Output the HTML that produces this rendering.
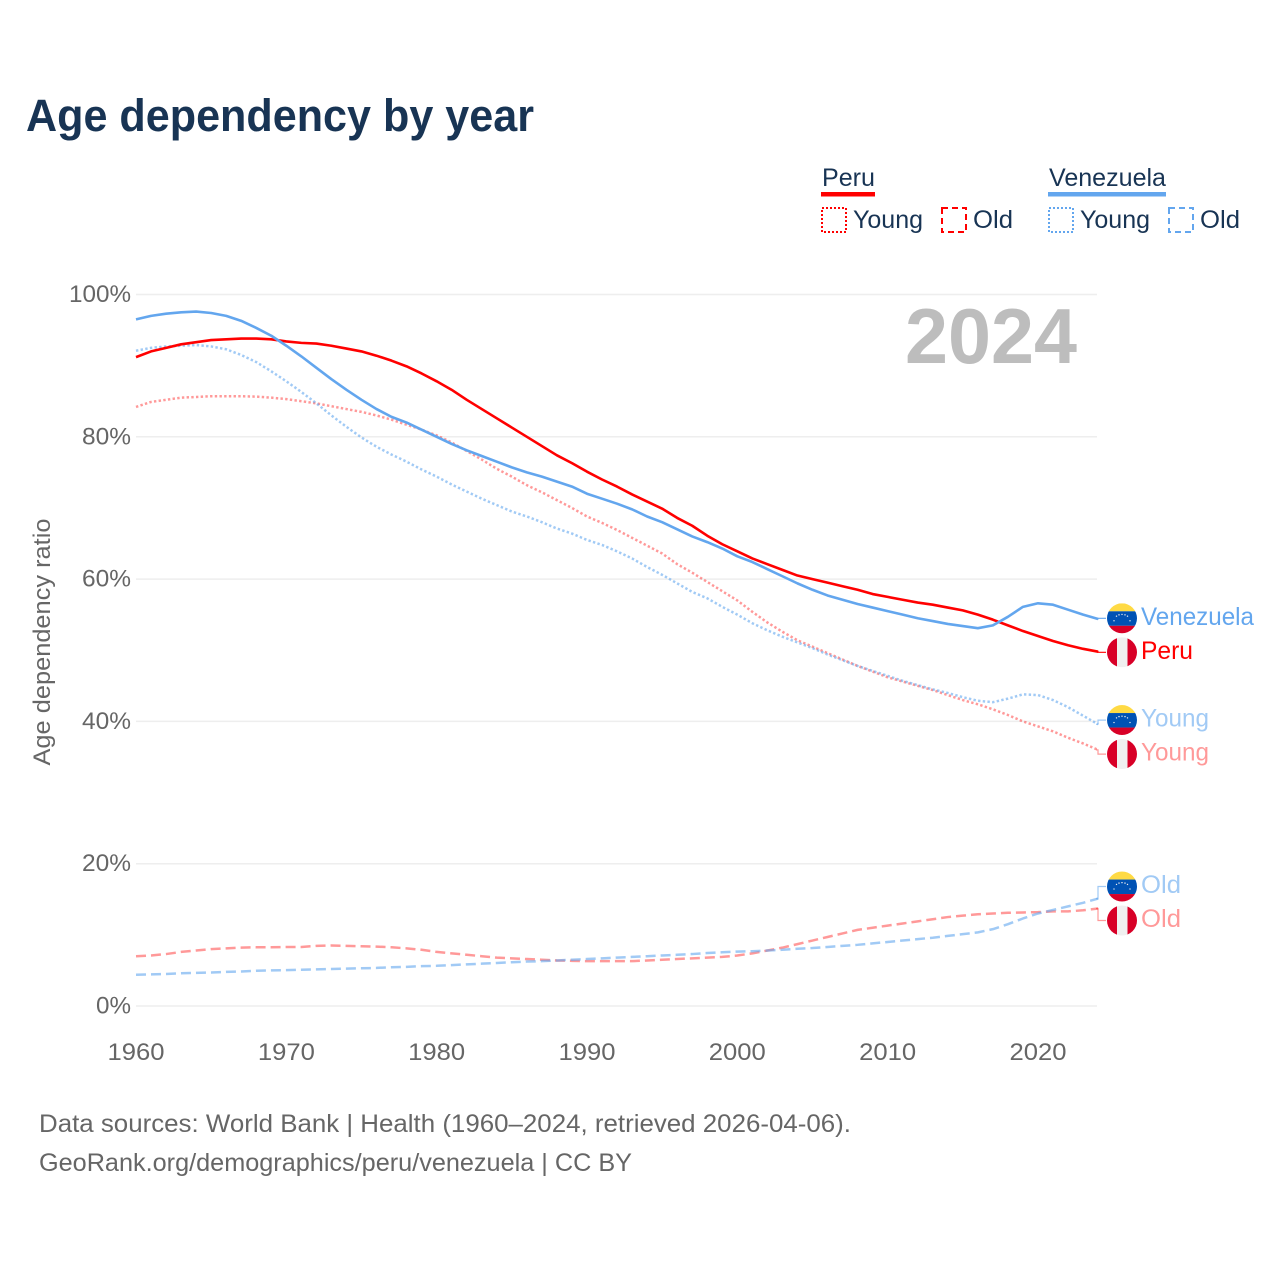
<!DOCTYPE html>
<html lang="en">
<head>
<meta charset="utf-8">
<title>Age dependency by year</title>
<style>
html,body{margin:0;padding:0;background:#fff}
svg{display:block}
text{font-family:"Liberation Sans",sans-serif}
</style>
</head>
<body>
<svg id="chart" xmlns="http://www.w3.org/2000/svg" width="1280" height="1280" viewBox="0 0 1280 1280">
  <text x="26" y="131" font-size="45" font-weight="700" fill="#183454" textLength="508" lengthAdjust="spacingAndGlyphs">Age dependency by year</text>

  <g>
    <text x="822" y="186" font-size="25" fill="#183454" textLength="53" lengthAdjust="spacingAndGlyphs">Peru</text>
    <rect x="821" y="192" width="54" height="4.5" fill="#ff0000"/>
    <rect x="822" y="208" width="24" height="24" fill="none" stroke="#ff0000" stroke-width="2" stroke-dasharray="2 2"/>
    <text x="853" y="228" font-size="25" fill="#183454" textLength="70" lengthAdjust="spacingAndGlyphs">Young</text>
    <rect x="942" y="208" width="24" height="24" fill="none" stroke="#ff0000" stroke-width="2" stroke-dasharray="6 4"/>
    <text x="973" y="228" font-size="25" fill="#183454" textLength="40" lengthAdjust="spacingAndGlyphs">Old</text>

    <text x="1049" y="186" font-size="25" fill="#183454" textLength="117" lengthAdjust="spacingAndGlyphs">Venezuela</text>
    <rect x="1048" y="192" width="118" height="4.5" fill="#63a6ee"/>
    <rect x="1049" y="208" width="24" height="24" fill="none" stroke="#63a6ee" stroke-width="2" stroke-dasharray="2 2"/>
    <text x="1080" y="228" font-size="25" fill="#183454" textLength="70" lengthAdjust="spacingAndGlyphs">Young</text>
    <rect x="1169" y="208" width="24" height="24" fill="none" stroke="#63a6ee" stroke-width="2" stroke-dasharray="6 4"/>
    <text x="1200" y="228" font-size="25" fill="#183454" textLength="40" lengthAdjust="spacingAndGlyphs">Old</text>
  </g>

  <g id="grid"></g>
  <g id="yticks"></g>
  <g id="xticks"></g>

  <text transform="translate(50 642) rotate(-90)" text-anchor="middle" font-size="24" fill="#666666" textLength="247" lengthAdjust="spacingAndGlyphs">Age dependency ratio</text>
  <text x="905" y="363" font-size="78" font-weight="700" fill="#bdbdbd" textLength="172" lengthAdjust="spacingAndGlyphs">2024</text>

  <g id="series"></g>
  <g id="endlabels"></g>

  <text x="39" y="1132" font-size="25" fill="#666666" textLength="812" lengthAdjust="spacingAndGlyphs">Data sources: World Bank | Health (1960–2024, retrieved 2026-04-06).</text>
  <text x="39" y="1171" font-size="25" fill="#666666" textLength="593" lengthAdjust="spacingAndGlyphs">GeoRank.org/demographics/peru/venezuela | CC BY</text>
</svg>

<script>
const startYear = 1960;
const xTickYears = [1960, 1970, 1980, 1990, 2000, 2010, 2020];
const yTickValues = [0, 20, 40, 60, 80, 100];

const peruTotal = [91.2,92.0,92.5,93.0,93.3,93.6,93.7,93.8,93.8,93.7,93.4,93.2,93.1,92.8,92.4,92.0,91.4,90.7,89.9,88.9,87.8,86.6,85.2,83.9,82.6,81.3,80.0,78.7,77.4,76.3,75.1,74.0,73.0,71.9,70.9,69.9,68.6,67.5,66.1,64.9,63.9,62.9,62.1,61.3,60.5,60.0,59.5,59.0,58.5,57.9,57.5,57.1,56.7,56.4,56.0,55.6,55.0,54.3,53.5,52.7,52.0,51.3,50.7,50.2,49.8];
const peruYoung = [84.2,84.9,85.2,85.5,85.6,85.7,85.7,85.7,85.65,85.5,85.3,85.0,84.7,84.3,83.9,83.5,83.0,82.4,81.7,81.0,80.2,79.2,78.0,76.8,75.5,74.4,73.2,72.2,71.1,70.0,68.8,67.9,66.9,65.8,64.7,63.6,62.1,60.9,59.6,58.3,57.0,55.4,53.9,52.6,51.4,50.5,49.6,48.7,47.8,47.0,46.2,45.6,45.0,44.4,43.7,43.0,42.4,41.7,40.9,40.0,39.3,38.6,37.7,36.9,36.0];
const peruOld = [7.0,7.1,7.3,7.6,7.8,8.0,8.1,8.2,8.25,8.25,8.3,8.3,8.45,8.5,8.45,8.4,8.35,8.25,8.1,7.9,7.6,7.4,7.2,7.0,6.8,6.7,6.6,6.5,6.4,6.35,6.3,6.3,6.3,6.3,6.4,6.5,6.6,6.7,6.8,6.9,7.1,7.4,7.8,8.2,8.7,9.2,9.7,10.2,10.7,11.0,11.3,11.6,11.9,12.2,12.5,12.7,12.9,13.0,13.1,13.15,13.2,13.3,13.3,13.45,13.7];

const venezuelaTotal = [96.5,97.0,97.3,97.5,97.6,97.4,97.0,96.3,95.3,94.2,92.8,91.3,89.7,88.1,86.6,85.2,83.9,82.8,82.0,81.0,80.0,79.0,78.1,77.3,76.5,75.7,75.0,74.4,73.7,73.0,72.0,71.3,70.6,69.8,68.8,68.0,67.0,66.0,65.2,64.3,63.2,62.4,61.4,60.4,59.4,58.5,57.7,57.1,56.5,56.0,55.5,55.0,54.5,54.1,53.7,53.4,53.1,53.5,54.7,56.1,56.6,56.4,55.7,55.0,54.4];
const venezuelaYoung = [92.1,92.5,92.7,92.8,92.9,92.7,92.3,91.5,90.5,89.2,87.8,86.3,84.7,83.0,81.4,79.9,78.6,77.5,76.5,75.4,74.4,73.3,72.3,71.3,70.4,69.5,68.8,68.0,67.1,66.4,65.5,64.8,63.9,62.9,61.7,60.6,59.4,58.2,57.3,56.1,55.0,53.8,52.8,51.9,51.1,50.3,49.4,48.6,47.8,47.1,46.4,45.7,45.1,44.5,44.0,43.4,42.9,42.7,43.2,43.8,43.7,43.0,42.0,40.8,39.6];
const venezuelaOld = [4.4,4.45,4.5,4.6,4.65,4.7,4.8,4.85,4.95,5.0,5.05,5.1,5.15,5.2,5.25,5.3,5.35,5.45,5.5,5.6,5.65,5.75,5.85,5.95,6.05,6.15,6.25,6.3,6.4,6.5,6.6,6.7,6.8,6.9,7.0,7.1,7.2,7.3,7.45,7.55,7.65,7.7,7.8,7.9,8.05,8.15,8.3,8.45,8.6,8.8,9.0,9.2,9.4,9.6,9.85,10.1,10.35,10.8,11.5,12.3,13.0,13.5,14.0,14.5,15.1];

const NS = 'http://www.w3.org/2000/svg';
function xScale(year) { return 136 + (year - 1960) * 15.033; }
function yScale(pct) { return 1006 - pct * 7.115; }

function make(tag, attrs, parent, content) {
  const el = document.createElementNS(NS, tag);
  for (const k in attrs) el.setAttribute(k, attrs[k]);
  if (content !== undefined) el.textContent = content;
  parent.appendChild(el);
  return el;
}

const gridG = document.getElementById('grid');
const yG = document.getElementById('yticks');
const xG = document.getElementById('xticks');
yTickValues.forEach(function (v) {
  const line = make('line', {x1: 136, x2: 1097, y1: yScale(v), y2: yScale(v), stroke: '#eeeeee', 'stroke-width': 1.5}, gridG);
  
  
  const label = make('text', {x: 131, y: yScale(v) + 7.5, 'text-anchor': 'end', 'font-size': 24, fill: '#666666', textLength: v === 100 ? 62 : (v === 0 ? 35 : 49), lengthAdjust: 'spacingAndGlyphs'}, yG, v + '%');
  
  
});
xTickYears.forEach(function (yr) {
  const label = make('text', {x: xScale(yr), y: 1060, 'text-anchor': 'middle', 'font-size': 24, fill: '#666666', textLength: 57, lengthAdjust: 'spacingAndGlyphs'}, xG, String(yr));
  
  
});

const seriesG = document.getElementById('series');
function drawLine(values, color, opacity, dash, width, name) {
  const pts = values.map(function (v, i) { return xScale(startYear + i).toFixed(2) + ',' + yScale(v).toFixed(2); }).join(' ');
  const el = make('polyline', {points: pts, fill: 'none', stroke: color, 'stroke-opacity': opacity, 'stroke-width': width, 'stroke-dasharray': dash, 'stroke-linejoin': 'round'}, seriesG);
  
  
}
const RED = '#ff0000', BLUE = '#63a6ee';
drawLine(peruOld, RED, 0.4, '10 5', 2.5, 'line-peru-old');
drawLine(venezuelaOld, BLUE, 0.6, '10 5', 2.5, 'line-venezuela-old');
drawLine(peruYoung, RED, 0.4, '2.4 2.3', 2.5, 'line-peru-young');
drawLine(venezuelaYoung, BLUE, 0.6, '2.4 2.3', 2.5, 'line-venezuela-young');
drawLine(peruTotal, RED, 1, 'none', 2.6, 'line-peru-total');
drawLine(venezuelaTotal, BLUE, 1, 'none', 2.6, 'line-venezuela-total');

const endG = document.getElementById('endlabels');
function flagVenezuela(cy, id) {
  const g = make('g', {}, endG);
  
  
  const defs = make('defs', {}, g);
  const clip = make('clipPath', {id: id}, defs);
  make('circle', {cx: 1122, cy: cy, r: 15}, clip);
  const inner = make('g', {'clip-path': 'url(#' + id + ')'}, g);
  make('rect', {x: 1107, y: cy - 15, width: 30, height: 8, fill: '#ffda44'}, inner);
  make('rect', {x: 1107, y: cy - 7, width: 30, height: 14.5, fill: '#0052b4'}, inner);
  make('rect', {x: 1107, y: cy + 7.5, width: 30, height: 8, fill: '#d80027'}, inner);
  [-8, -5.5, -3, 0, 3, 5.5, 8].forEach(function (dx) {
    make('circle', {cx: 1122 + dx, cy: cy + 2.5 - Math.sqrt(64 - dx * dx) * 0.8, r: 0.7, fill: '#f0f0f0'}, inner);
  });
}
function flagPeru(cy, id) {
  const g = make('g', {}, endG);
  
  
  const defs = make('defs', {}, g);
  const clip = make('clipPath', {id: id}, defs);
  make('circle', {cx: 1122, cy: cy, r: 15}, clip);
  const inner = make('g', {'clip-path': 'url(#' + id + ')'}, g);
  make('rect', {x: 1107, y: cy - 15, width: 30, height: 30, fill: '#f0f0f0'}, inner);
  make('rect', {x: 1107, y: cy - 15, width: 10, height: 30, fill: '#d80027'}, inner);
  make('rect', {x: 1127.5, y: cy - 15, width: 10, height: 30, fill: '#d80027'}, inner);
}
function endLabel(cfg, labelY, key) {
  const endY = yScale(cfg.values[cfg.values.length - 1]);
  const conn = make('polyline', {points: '1096,' + endY.toFixed(1) + ' 1098,' + endY.toFixed(1) + ' 1098,' + labelY.toFixed(1) + ' 1106,' + labelY.toFixed(1), fill: 'none', stroke: cfg.color, 'stroke-opacity': cfg.opacity, 'stroke-width': 1.2}, endG);
  
  
  if (cfg.country === 'v') flagVenezuela(labelY, 'clip-' + key);
  else flagPeru(labelY, 'clip-' + key);
  const t = make('text', {x: 1141, y: labelY + 6.5, 'font-size': 25, fill: cfg.color, 'fill-opacity': cfg.opacity, textLength: cfg.width, lengthAdjust: 'spacingAndGlyphs'}, endG, cfg.text);
  
  
}
function labelPair(a, b, key) {
  const ya = yScale(a.values[a.values.length - 1]);
  const yb = yScale(b.values[b.values.length - 1]);
  const mid = (ya + yb) / 2;
  const gap = 34;
  const spread = Math.abs(ya - yb) < gap;
  endLabel(a, spread ? mid - gap / 2 : ya, key + 'a');
  endLabel(b, spread ? mid + gap / 2 : yb, key + 'b');
}
labelPair({values: venezuelaTotal, color: BLUE, opacity: 1, country: 'v', text: 'Venezuela', width: 113},
          {values: peruTotal, color: RED, opacity: 1, country: 'p', text: 'Peru', width: 52}, 'total');
labelPair({values: venezuelaYoung, color: BLUE, opacity: 0.6, country: 'v', text: 'Young', width: 68},
          {values: peruYoung, color: RED, opacity: 0.4, country: 'p', text: 'Young', width: 68}, 'young');
labelPair({values: venezuelaOld, color: BLUE, opacity: 0.6, country: 'v', text: 'Old', width: 40},
          {values: peruOld, color: RED, opacity: 0.4, country: 'p', text: 'Old', width: 40}, 'old');
</script>
</body>
</html>
